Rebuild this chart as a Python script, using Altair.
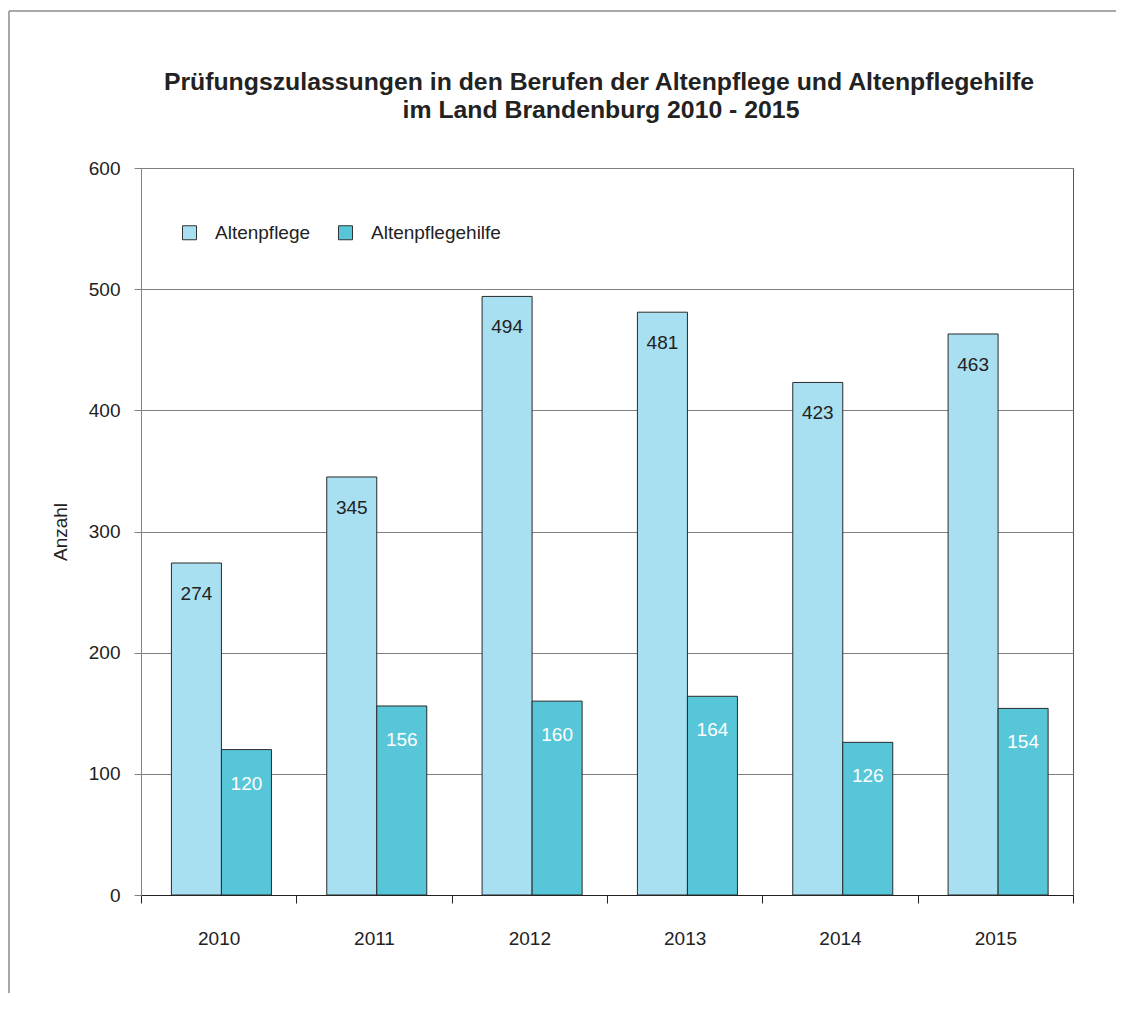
import altair as alt
import pandas as pd

years = ["2010", "2011", "2012", "2013", "2014", "2015"]
series = ["Altenpflege", "Altenpflegehilfe"]
altenpflege = [274, 345, 494, 481, 423, 463]
altenpflegehilfe = [120, 156, 160, 164, 126, 154]
colors = ["#A8DFF1", "#57C6D8"]
y_ticks = [0, 100, 200, 300, 400, 500, 600]
title_line1 = "Prüfungszulassungen in den Berufen der Altenpflege und Altenpflegehilfe"
title_line2 = "im Land Brandenburg 2010 - 2015"

rows = []
for i, yr in enumerate(years):
    rows.append({"Jahr": yr, "Serie": series[0], "Anzahl": altenpflege[i]})
    rows.append({"Jahr": yr, "Serie": series[1], "Anzahl": altenpflegehilfe[i]})
df = pd.DataFrame(rows)

FONT = "Liberation Sans"
TXT = "#222222"
FS = 19

x = alt.X(
    "Jahr:N",
    sort=years,
    scale=alt.Scale(paddingInner=0, paddingOuter=0),
    axis=alt.Axis(
        title=None, labelAngle=0, tickBand="extent", tickSize=8,
        tickColor="#222222", domainColor="#222222", labelFontSize=FS,
        labelPadding=26, labelColor=TXT, grid=False, labelFont=FONT,
    ),
)
xo = alt.XOffset(
    "Serie:N", sort=series,
    scale=alt.Scale(domain=series, paddingInner=0, paddingOuter=0.553, align=0.55),
)
y = alt.Y(
    "Anzahl:Q",
    scale=alt.Scale(domain=[0, 600], nice=False),
    axis=alt.Axis(
        values=y_ticks, title="Anzahl", tickSize=7, tickColor="#808080",
        domainColor="#808080", gridColor="#808080", labelFontSize=FS,
        labelPadding=14, titleFontSize=FS, titleFontWeight="normal",
        titlePadding=18, labelColor=TXT, titleColor=TXT, labelFont=FONT,
        titleFont=FONT,
    ),
)

base = alt.Chart(df)

bars = base.mark_bar(stroke="#2a2a2a", strokeWidth=1).encode(
    x=x, xOffset=xo, y=y,
    color=alt.Color(
        "Serie:N",
        scale=alt.Scale(domain=series, range=colors),
        legend=alt.Legend(
            title=None, orient="none", legendX=39, legendY=55,
            direction="horizontal", symbolType="square", symbolSize=196,
            symbolStrokeColor="#333333", symbolStrokeWidth=1,
            labelFontSize=FS, labelOffset=16, columnPadding=25,
            labelFont=FONT, labelColor=TXT,
        ),
    ),
)

t1 = base.transform_filter(alt.datum.Serie == series[0]).mark_text(
    dy=31, fontSize=FS, color=TXT, baseline="middle", font=FONT
).encode(x=x, xOffset=xo, y=y, text="Anzahl:Q")

t2 = base.transform_filter(alt.datum.Serie == series[1]).mark_text(
    dy=34, fontSize=FS, color="white", baseline="middle", font=FONT
).encode(x=x, xOffset=xo, y=y, text="Anzahl:Q")

one = pd.DataFrame({"k": [0]})
top_line = alt.Chart(one).mark_rule(color="#8c8c8c", strokeWidth=1.5, clip=False).encode(
    x=alt.value(-132), x2=alt.value(975), y=alt.value(-157)
)
left_line = alt.Chart(one).mark_rule(color="#8c8c8c", strokeWidth=1.5, clip=False).encode(
    x=alt.value(-132), y=alt.value(-157), y2=alt.value(825)
)
title1 = alt.Chart(one).mark_text(
    fontSize=24.8, fontWeight="bold", font=FONT, color=TXT, align="center",
    baseline="alphabetic", clip=False,
).encode(x=alt.value(458), y=alt.value(-78), text=alt.value(title_line1))
title2 = alt.Chart(one).mark_text(
    fontSize=24.8, fontWeight="bold", font=FONT, color=TXT, align="center",
    baseline="alphabetic", clip=False,
).encode(x=alt.value(460), y=alt.value(-50), text=alt.value(title_line2))

chart = alt.layer(bars, t1, t2, top_line, left_line, title1, title2).properties(
    width=932,
    height=727,
    padding={"left": 0, "top": 2, "right": 0, "bottom": 0},
).configure_view(stroke="#555555")

chart.save("out.html", embed_options={"renderer": "svg", "actions": False})
